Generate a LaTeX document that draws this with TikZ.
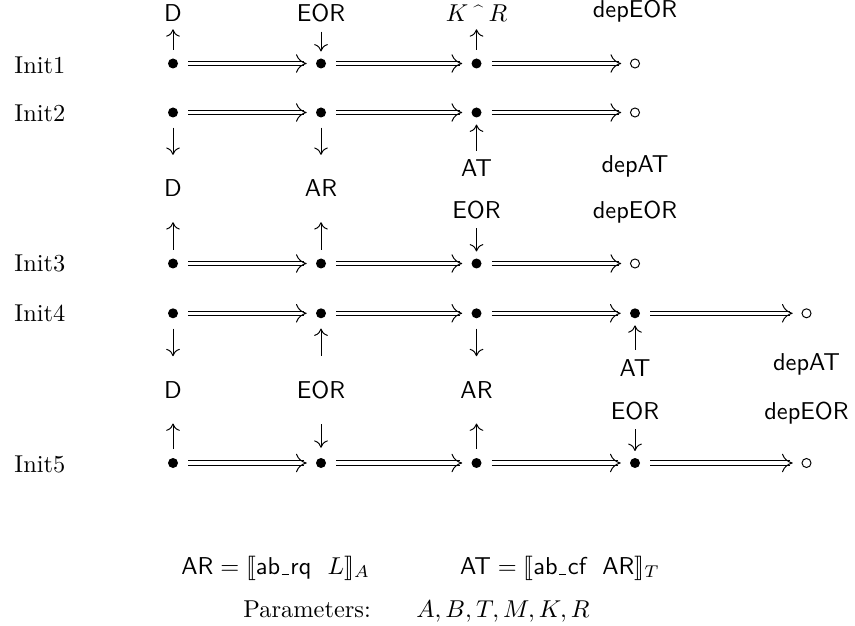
\documentclass[tikz,border=0pt]{standalone}
\usepackage{stmaryrd}
\usetikzlibrary{arrows.meta}
\newcommand\lowbar{\kern.06em\rule[-0.35pt]{0.3em}{0.4pt}\kern.06em}
% a transition: two parallel rails plus an open head
\newcommand\flowto[2]{%
  \draw[rail,transform canvas={yshift=0.83pt}] (#1) -- (#2);
  \draw[rail,transform canvas={yshift=-0.83pt}] (#1) -- (#2);
  \draw[flowhead] (#1) -- (#2);}
\begin{document}
\begin{tikzpicture}[x=0.41pt,y=-0.41pt,
  pt/.style={circle,fill,inner sep=0pt,minimum size=4.1pt},
  endpt/.style={circle,draw,line width=0.4pt,inner sep=0pt,minimum size=3.7pt},
  lbl/.style={font=\sffamily,anchor=base},
  mlbl/.style={anchor=base},
  init/.style={anchor=base west,inner sep=0pt},
  txt/.style={anchor=base west,inner sep=0pt},
  rail/.style={line width=0.4pt,shorten <=4pt,shorten >=4.6pt},
  flowhead/.style={line width=0.4pt,dash pattern=on 0pt off 2000pt,
    -{Computer Modern Rightarrow[length=4.4pt,width=7.6pt]},
    shorten <=4pt,shorten >=3.6pt},
  link/.style={line width=0.4pt,-{Computer Modern Rightarrow[length=3pt,width=5.6pt]}},
  dottail/.style={shorten <=3.4pt},
  dottip/.style={shorten >=2.7pt},
  fardottail/.style={shorten <=4pt},
  fardottip/.style={shorten >=4pt},
  lbltail/.style={shorten <=0.3pt},
  lbltip/.style={shorten >=-0.4pt},
  farlbltail/.style={shorten <=6.8pt},
  farlbltip/.style={shorten >=6.8pt}]
\useasboundingbox (0,0) rectangle (855,626);

% row names
\node[init] (n1) at (14,73.3)  {Init1};
\node[init] (n2) at (14,121.7) {Init2};
\node[init] (n3) at (14,271.7) {Init3};
\node[init] (n4) at (14,321.7) {Init4};
\node[init] (n5) at (14,472)   {Init5};

% states
\node[pt] (a1) at (173,63.5) {};
\node[pt] (b1) at (321,63.5) {};
\node[pt] (c1) at (476.5,63.5) {};
\node[endpt] (d1) at (635,63.5) {};

\node[pt] (a2) at (173,112.5) {};
\node[pt] (b2) at (321,112.5) {};
\node[pt] (c2) at (476.5,112.5) {};
\node[endpt] (d2) at (635,112.5) {};

\node[pt] (a3) at (173,263.5) {};
\node[pt] (b3) at (321,263.5) {};
\node[pt] (c3) at (476.5,263.5) {};
\node[endpt] (d3) at (635,263.5) {};

\node[pt] (a4) at (173,313.3) {};
\node[pt] (b4) at (321,313.3) {};
\node[pt] (c4) at (476.5,313.3) {};
\node[pt] (d4) at (635,313.3) {};
\node[endpt] (e4) at (806.5,313.3) {};

\node[pt] (a5) at (173,463) {};
\node[pt] (b5) at (321,463) {};
\node[pt] (c5) at (476.5,463) {};
\node[pt] (d5) at (635,463) {};
\node[endpt] (e5) at (806.5,463) {};

% transitions
\flowto{a1}{b1} \flowto{b1}{c1} \flowto{c1}{d1}
\flowto{a2}{b2} \flowto{b2}{c2} \flowto{c2}{d2}
\flowto{a3}{b3} \flowto{b3}{c3} \flowto{c3}{d3}
\flowto{a4}{b4} \flowto{b4}{c4} \flowto{c4}{d4} \flowto{d4}{e4}
\flowto{a5}{b5} \flowto{b5}{c5} \flowto{c5}{d5} \flowto{d5}{e5}

% labels above Init1
\node[lbl]  (t1a) at (173,21.7)   {D};
\node[lbl]  (t1b) at (321,21.7)   {EOR};
\node[mlbl] (t1c) at (476.5,21.7) {$K\mathbin{\raisebox{1.8pt}{\scriptsize\^{}}}R$};
\node[lbl]  (t1d) at (635,18)     {depEOR};

% labels between Init2 and Init3
\node[lbl] (m2c) at (476.5,177) {AT};
\node[lbl] (m2d) at (635,173)   {depAT};
\node[lbl] (m2a) at (173,197)   {D};
\node[lbl] (m2b) at (321,197)   {AR};
\node[lbl] (m3c) at (476.5,218.3) {EOR};
\node[lbl] (m3d) at (635,218.3) {depEOR};

% labels between Init4 and Init5
\node[lbl] (m4d) at (635,376)   {AT};
\node[lbl] (m4e) at (806.5,370.7) {depAT};
\node[lbl] (m4a) at (173,398.3) {D};
\node[lbl] (m4b) at (321,398.3) {EOR};
\node[lbl] (m4c) at (476.5,398.3) {AR};
\node[lbl] (m5d) at (635,419.3) {EOR};
\node[lbl] (m5e) at (806.5,419.3) {depEOR};

% observations, row 1
\draw[link,dottail,lbltip] (a1) -- (t1a);
\draw[link,lbltail,dottip] (t1b) -- (b1);
\draw[link,dottail,lbltip] (c1) -- (t1c);

% row 2
\draw[link,fardottail,farlbltip] (a2) -- (m2a);
\draw[link,fardottail,farlbltip] (b2) -- (m2b);
\draw[link,lbltail,dottip] (m2c) -- (c2);

% row 3
\draw[link,dottail,farlbltip] (a3) -- (m2a);
\draw[link,dottail,farlbltip] (b3) -- (m2b);
\draw[link,lbltail,dottip] (m3c) -- (c3);

% row 4
\draw[link,fardottail,farlbltip] (a4) -- (m4a);
\draw[link,farlbltail,fardottip] (m4b) -- (b4);
\draw[link,fardottail,farlbltip] (c4) -- (m4c);
\draw[link,lbltail,dottip] (m4d) -- (d4);

% row 5
\draw[link,dottail,farlbltip] (a5) -- (m4a);
\draw[link,farlbltail,fardottip] (m4b) -- (b5);
\draw[link,dottail,farlbltip] (c5) -- (m4c);
\draw[link,lbltail,dottip] (m5d) -- (d5);

% definitions
\node[txt] (defs) at (181,574)
  {$\mathsf{AR} = \llbracket\mbox{\sffamily ab\lowbar rq}\ \ L\rrbracket_A\hspace{3.7em}
    \mathsf{AT} = \llbracket\mbox{\sffamily ab\lowbar cf}\ \ \mathsf{AR}\rrbracket_T$};
\node[txt] (params) at (243,617)
  {Parameters:\hspace{1.87em}$A, B, T, M, K, R$};
\end{tikzpicture}
\end{document}
